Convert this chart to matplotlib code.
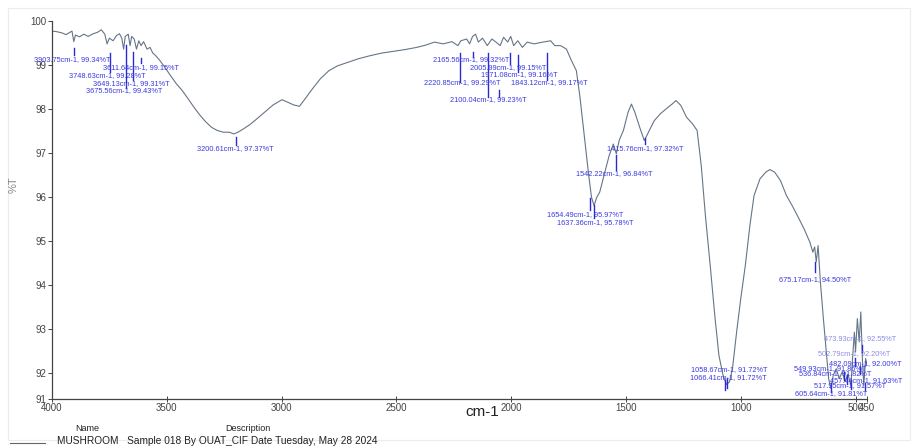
import matplotlib
matplotlib.use('Agg')
import matplotlib.pyplot as plt
from matplotlib.lines import Line2D
from matplotlib.patches import Rectangle

plt.rcParams['font.family'] = ['Liberation Sans', 'DejaVu Sans']

# -------------------------------
# SPECTRUM
# -------------------------------
wavenumber = [4000, 3982, 3957, 3939, 3923, 3913, 3905, 3898, 3880, 3862, 3842, 3821,
              3803, 3785, 3770, 3760, 3750, 3734, 3719, 3706, 3696, 3688, 3681, 3668,
              3660, 3653, 3642, 3632, 3622, 3612, 3601, 3586, 3573, 3561, 3548, 3530,
              3509, 3484, 3458, 3433, 3407, 3382, 3356, 3331, 3305, 3280, 3254, 3228,
              3208, 3190, 3165, 3139, 3113, 3075, 3037, 2998, 2973, 2947, 2922, 2896,
              2871, 2832, 2794, 2756, 2717, 2666, 2615, 2564, 2513, 2462, 2411, 2373,
              2334, 2296, 2258, 2232, 2219, 2194, 2181, 2168, 2155, 2143, 2125, 2104,
              2084, 2066, 2048, 2033, 2015, 2002, 1989, 1971, 1951, 1930, 1900, 1862,
              1828, 1810, 1785, 1759, 1741, 1726, 1716, 1701, 1688, 1675, 1662, 1650,
              1639, 1627, 1614, 1594, 1573, 1555, 1542, 1529, 1511, 1491, 1476, 1461,
              1440, 1420, 1402, 1377, 1350, 1325, 1299, 1282, 1261, 1236, 1210, 1190,
              1172, 1154, 1133, 1113, 1095, 1077, 1062, 1049, 1036, 1018, 1000, 980,
              960, 942, 916, 891, 873, 852, 827, 801, 776, 750, 724, 699, 686, 678,
              671, 663, 653, 640, 627, 617, 607, 597, 584, 571, 558, 546, 533, 520,
              513, 505, 500, 492, 484, 477, 469, 464, 456, 450]
transmittance = [99.77, 99.76, 99.73, 99.69, 99.74, 99.77, 99.53, 99.68, 99.64, 99.70, 99.65, 99.71,
                 99.74, 99.80, 99.70, 99.48, 99.61, 99.55, 99.67, 99.71, 99.61, 99.36, 99.65, 99.70,
                 99.44, 99.65, 99.59, 99.36, 99.55, 99.44, 99.53, 99.36, 99.40, 99.27, 99.21, 99.10,
                 98.95, 98.76, 98.57, 98.42, 98.23, 98.04, 97.86, 97.71, 97.58, 97.51, 97.47, 97.47,
                 97.43, 97.47, 97.55, 97.64, 97.75, 97.92, 98.09, 98.21, 98.15, 98.09, 98.06, 98.24,
                 98.42, 98.68, 98.87, 98.98, 99.05, 99.14, 99.21, 99.27, 99.31, 99.35, 99.40, 99.45,
                 99.52, 99.48, 99.53, 99.44, 99.55, 99.59, 99.48, 99.65, 99.70, 99.52, 99.61, 99.44,
                 99.59, 99.52, 99.44, 99.63, 99.52, 99.65, 99.44, 99.55, 99.40, 99.52, 99.48, 99.52,
                 99.55, 99.44, 99.44, 99.36, 99.14, 98.98, 98.87, 98.30, 97.70, 97.09, 96.48, 95.99,
                 95.80, 95.99, 96.11, 96.52, 96.94, 97.20, 96.98, 97.29, 97.51, 97.92, 98.11, 97.92,
                 97.58, 97.28, 97.47, 97.73, 97.89, 98.00, 98.11, 98.19, 98.08, 97.81, 97.66, 97.51,
                 96.71, 95.58, 94.44, 93.30, 92.39, 91.94, 91.73, 91.79, 92.09, 92.92, 93.68, 94.44,
                 95.35, 96.03, 96.41, 96.56, 96.62, 96.56, 96.37, 96.03, 95.80, 95.54, 95.27, 94.97, 94.74, 94.86,
                 94.52, 94.89, 94.06, 93.23, 92.47, 91.86, 91.64, 91.94, 92.09, 91.86, 92.02, 91.79, 91.97, 91.71,
                 92.32, 92.92, 92.47, 93.23, 92.70, 93.38, 92.17, 91.71, 92.32, 92.17]

# peak labels
peak_wn = [3903.75, 3748.63, 3675.56, 3649.13, 3611.64, 3200.61, 2220.85, 2165.56,
           2100.04, 2005.99, 1971.08, 1843.12, 1654.49, 1637.36, 1542.22, 1415.76,
           1066.41, 1058.67, 675.17, 605.64, 549.93, 536.84, 517.95, 502.79,
           482.09, 473.93, 457.44]
peak_t = [99.34, 99.28, 99.43, 99.31, 99.15, 97.37, 99.29, 99.32,
          99.23, 99.15, 99.16, 99.17, 95.97, 95.78, 96.84, 97.32,
          91.72, 91.72, 94.50, 91.81, 91.86, 91.82, 91.57, 92.20,
          92.00, 92.55, 91.63]

x_ticks = [4000, 3500, 3000, 2500, 2000, 1500, 1000, 500, 450]
y_ticks = [92, 93, 94, 95, 96, 97, 98, 99, 100]

# layout of the peak marks, in picture pixels (from top-left):
# marker top y, marker bottom y, label centre x, label y, faded label
peak_layout = [
    (48, 55, 72, 60, False), (53, 72, 107, 76, False), (45, 88, 124, 91, False),
    (52, 80, 131, 84, False), (58, 63, 141, 68, False), (137, 145, 235, 149, False),
    (53, 82, 462, 83, False), (52, 57, 471, 60, False), (53, 97, 488, 100, False),
    (53, 64, 508, 68, False), (55, 72, 519, 75, False), (53, 80, 549, 83, False),
    (198, 210, 585, 215, False), (205, 218, 595, 223, False), (155, 170, 614, 174, False),
    (138, 144, 645, 149, False), (380, 390, 728, 378, False), (378, 388, 729, 370, False),
    (262, 272, 815, 280, False), (383, 392, 831, 394, False), (372, 380, 830, 369, False),
    (375, 384, 835, 374, False), (380, 389, 850, 386, False), (358, 366, 854, 354, True),
    (366, 374, 865, 364, False), (345, 352, 860, 339, True), (383, 390, 866, 381, False)]

W, H = 919, 448
fig = plt.figure(figsize=(W / 100, H / 100), dpi=100)
ax = fig.add_axes([52 / W, 1 - 399 / H, (867 - 52) / W, (399 - 21) / H])

ax.plot(wavenumber, transmittance, color='#667586', lw=0.8)
ax.set_xlim(4000, 450)
ax.set_ylim(91.4, 100)

ax.set_xticks(x_ticks)
ax.set_xticklabels([str(t) for t in x_ticks], fontsize=7, color='#333333')
ax.set_yticks([91.4] + y_ticks)
ax.set_yticklabels(['91'] + [str(t) for t in y_ticks], fontsize=7, color='#444444')
ax.tick_params(axis='x', direction='inout', length=4, width=0.7, colors='#444444', pad=1)
ax.tick_params(axis='y', direction='out', length=3, width=0.7, colors='#444444', pad=1)
for side in ['top', 'right']:
    ax.spines[side].set_visible(False)
for side in ['left', 'bottom']:
    ax.spines[side].set_color('#444444')
    ax.spines[side].set_linewidth(0.9)

inv = ax.transData.inverted()


def to_data(x_px, y_px):
    return inv.transform((x_px, H - y_px))


# hidden label under 2100 cm-1
ax.plot([2053, 2053], [to_data(0, 90)[1], to_data(0, 97)[1]], color='#2a2ad0', lw=1.0)

for wn, tv, (y0, y1, lx, ly, faded) in zip(peak_wn, peak_t, peak_layout):
    ax.plot([wn, wn], [to_data(0, y0)[1], to_data(0, y1)[1]], color='#2a2ad0', lw=1.0)
    lxd, lyd = to_data(lx, ly)
    ax.text(lxd, lyd, '%.2fcm-1, %.2f%%T' % (wn, tv), fontsize=5.3,
            color='#8c8ce6' if faded else '#3a3ae0', ha='center', va='center',
            clip_on=False)

fig.text(14 / W, 1 - 185 / H, '%T', rotation=90, fontsize=8, color='#888888',
         ha='center', va='center')
fig.text(482 / W, 1 - 412 / H, 'cm-1', fontsize=11, color='#222222',
         ha='center', va='center')

# footer
fig.text(87 / W, 1 - 428 / H, 'Name', fontsize=6.5, color='#222222', ha='center', va='center')
fig.text(248 / W, 1 - 428 / H, 'Description', fontsize=6.5, color='#222222', ha='center', va='center')
fig.add_artist(Line2D([10 / W, 45 / W], [1 - 443 / H, 1 - 443 / H], color='#666666', lw=0.8))
fig.text(57 / W, 1 - 441 / H, 'MUSHROOM   Sample 018 By OUAT_CIF Date Tuesday, May 28 2024',
         fontsize=7.3, color='#222222', ha='left', va='center')

# faint frame of the screenshot
fig.add_artist(Rectangle((8 / W, 1 - 440 / H), 902 / W, 432 / H, fill=False,
                         edgecolor='#ececec', lw=0.8, transform=fig.transFigure))

fig.savefig('out.png', dpi=100)
